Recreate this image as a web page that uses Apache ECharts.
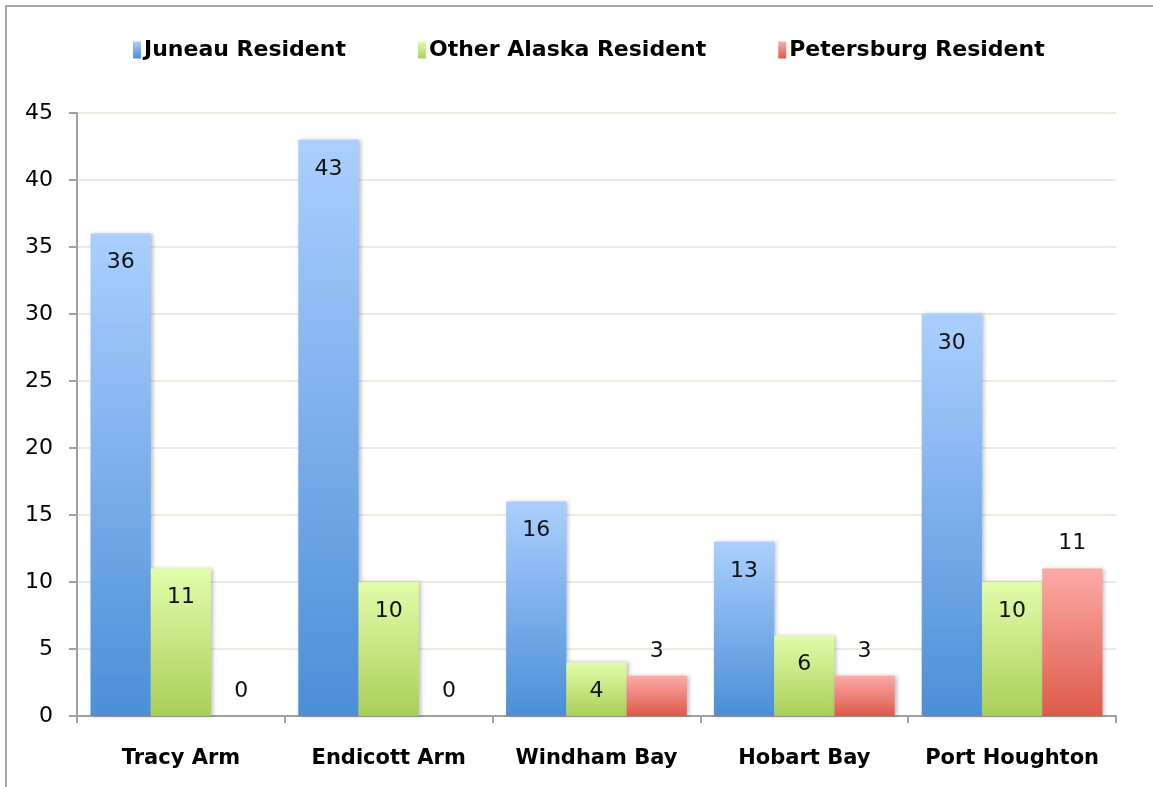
<!DOCTYPE html>
<html>
<head>
<meta charset="utf-8">
<script src="https://cdn.jsdelivr.net/npm/echarts@6/dist/echarts.min.js"></script>
<style>
  html, body { margin: 0; padding: 0; background: #fff; }
  #chart { width: 1153px; height: 787px; }
</style>
</head>
<body>
<div id="chart"></div>
<script>
const categories = ['Tracy Arm', 'Endicott Arm', 'Windham Bay', 'Hobart Bay', 'Port Houghton'];
const juneau = [36, 43, 16, 13, 30];
const otherAlaska = [11, 10, 4, 6, 10];
const petersburg = [0, 0, 3, 3, 11];
const yTicks = { min: 0, max: 45, interval: 5 };

const FONT = '"DejaVu Sans", sans-serif';

const grad = (top, bottom) => new echarts.graphic.LinearGradient(0, 0, 0, 1, [
  { offset: 0, color: top },
  { offset: 1, color: bottom },
]);

const seriesDefs = [
  { name: 'Juneau Resident', data: juneau, colors: ['#abcffe', '#4b8fd7'], pos: 'insideTop' },
  { name: 'Other Alaska Resident', data: otherAlaska, colors: ['#e2fdaa', '#a9cf58'], pos: 'insideTop' },
  { name: 'Petersburg Resident', data: petersburg, colors: ['#fdaaa7', '#dc5a4b'], pos: 'top' },
];

const chart = echarts.init(document.getElementById('chart'));

chart.setOption({
  animation: false,
  backgroundColor: '#fff',
  graphic: [{
    type: 'rect',
    shape: { x: 6, y: 6, width: 1200, height: 1000 },
    style: { fill: 'none', stroke: '#a6a6a6', lineWidth: 2 },
    silent: true,
  }],
  legend: {
    top: 34,
    left: 128,
    icon: 'rect',
    itemWidth: 8,
    itemHeight: 17,
    itemGap: 72,
    textStyle: { fontFamily: FONT, fontSize: 22, fontWeight: 'bold', color: '#000', padding: [0, 0, 0, -2] },
  },
  grid: { left: 77, right: 37, top: 113, bottom: 71 },
  xAxis: {
    type: 'category',
    data: categories,
    axisLine: { lineStyle: { color: '#a0a0a0', width: 2 } },
    axisTick: { show: true, length: 7, lineStyle: { color: '#a0a0a0', width: 2 } },
    axisLabel: { interval: 0, fontFamily: FONT, fontSize: 21, fontWeight: 'bold', color: '#000', margin: 32 },
  },
  yAxis: {
    type: 'value',
    min: yTicks.min,
    max: yTicks.max,
    interval: yTicks.interval,
    axisLine: { show: true, lineStyle: { color: '#a0a0a0', width: 2 } },
    axisTick: { show: true, length: 8, lineStyle: { color: '#a0a0a0', width: 2 } },
    axisLabel: { fontFamily: FONT, fontSize: 22, color: '#000', margin: 24 },
    splitLine: { lineStyle: { color: '#eeeae0', width: 2 } },
  },
  series: seriesDefs.map((s) => ({
    name: s.name,
    type: 'bar',
    data: s.data,
    barGap: '0%',
    barCategoryGap: '13%',
    itemStyle: {
      color: grad(s.colors[0], s.colors[1]),
      shadowColor: 'rgba(0,0,0,0.25)',
      shadowBlur: 4,
      shadowOffsetX: 2,
      shadowOffsetY: 0,
    },
    label: {
      show: true,
      position: s.pos,
      distance: s.pos === 'top' ? 14 : 18,
      fontFamily: FONT,
      fontSize: 22,
      color: '#111',
    },
  })),
});
</script>
</body>
</html>
